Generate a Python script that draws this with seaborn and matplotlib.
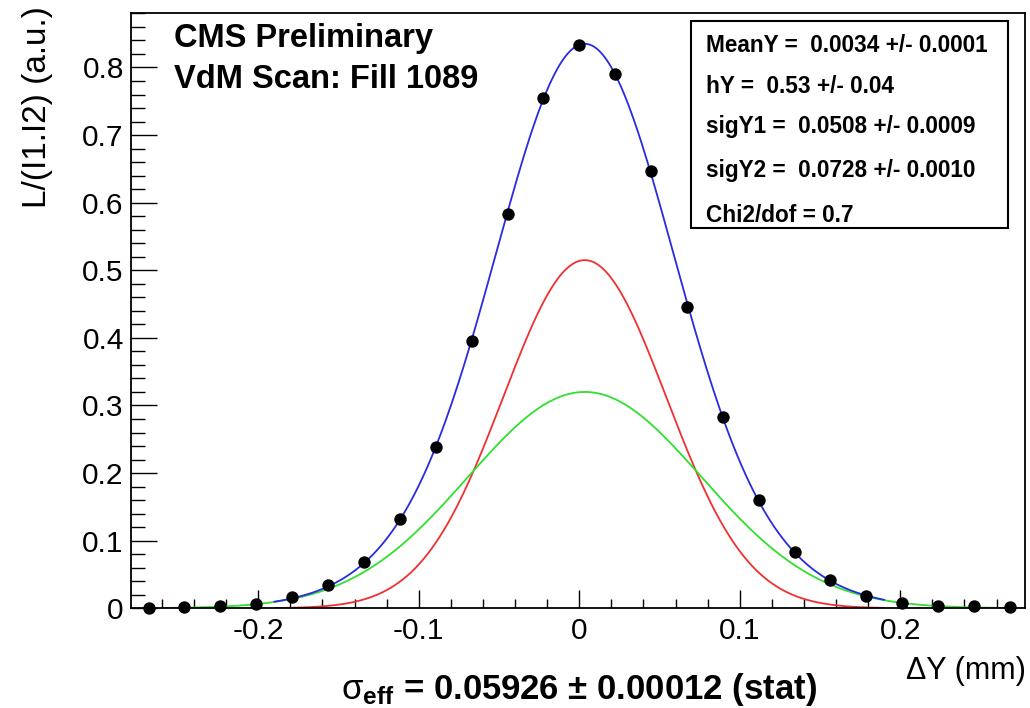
import numpy as np
import pandas as pd
import matplotlib
matplotlib.use("Agg")
import matplotlib.pyplot as plt
from matplotlib.ticker import MultipleLocator, FuncFormatter
from matplotlib.patches import Rectangle
import seaborn as sns

# ---- data ----
scan_x = [-0.2683, -0.2460, -0.2236, -0.2012, -0.1789, -0.1565, -0.1342, -0.1118,
          -0.0894, -0.0671, -0.0447, -0.0224, 0.0, 0.0224, 0.0447, 0.0671,
          0.0894, 0.1118, 0.1342, 0.1565, 0.1789, 0.2012, 0.2236, 0.2460, 0.2683]
lumi_y = [0.000, 0.002, 0.003, 0.006, 0.016, 0.034, 0.068, 0.132,
          0.238, 0.395, 0.583, 0.755, 0.833, 0.790, 0.647, 0.445,
          0.283, 0.160, 0.083, 0.042, 0.018, 0.008, 0.004, 0.003, 0.002]
lumi_err = [0.001, 0.001, 0.001, 0.002, 0.005, 0.004, 0.004, 0.004,
            0.004, 0.004, 0.004, 0.004, 0.004, 0.004, 0.004, 0.004,
            0.004, 0.004, 0.004, 0.004, 0.005, 0.002, 0.001, 0.001, 0.001]

# fit parameters shown in the stats box, peak heights
fit_mean = 0.0034
fit_sig1 = 0.0508
fit_sig2 = 0.0728
fit_amp1 = 0.515   # red (narrow) component peak
fit_amp2 = 0.320   # green (wide) component peak
fit_range = (-0.19, 0.19)
wide_range = (-0.26, 0.278)

stats_lines = ["MeanY =  0.0034 +/- 0.0001",
               "hY =  0.53 +/- 0.04",
               "sigY1 =  0.0508 +/- 0.0009",
               "sigY2 =  0.0728 +/- 0.0010",
               "Chi2/dof = 0.7"]
x_ticks = [-0.2, -0.1, 0.0, 0.1, 0.2]
y_ticks = [0.0, 0.1, 0.2, 0.3, 0.4, 0.5, 0.6, 0.7, 0.8]

sns.set_theme(style="white")
plt.rcParams['font.family'] = ['Liberation Sans', 'DejaVu Sans']
plt.rcParams['axes.unicode_minus'] = False
plt.rcParams['mathtext.fontset'] = 'custom'
plt.rcParams['mathtext.rm'] = 'Liberation Sans'
plt.rcParams['mathtext.bf'] = 'Liberation Sans:bold'
plt.rcParams['mathtext.it'] = 'Liberation Sans:italic'


def g1(x):
    return fit_amp1 * np.exp(-(x - fit_mean) ** 2 / (2 * fit_sig1 ** 2))


def g2(x):
    return fit_amp2 * np.exp(-(x - fit_mean) ** 2 / (2 * fit_sig2 ** 2))


xf = np.linspace(fit_range[0], fit_range[1], 300)
xw = np.linspace(wide_range[0], wide_range[1], 300)
df_blue = pd.DataFrame({"x": xf, "y": g1(xf) + g2(xf)})
df_red = pd.DataFrame({"x": xf, "y": g1(xf)})
df_green = pd.DataFrame({"x": xw, "y": g2(xw)})
df_pts = pd.DataFrame({"x": scan_x, "y": lumi_y, "err": lumi_err})

fig = plt.figure(figsize=(10.30, 7.08), dpi=100)
W, H = 1030.0, 708.0
ax = fig.add_axes([130.7 / W, 1 - 608.3 / H, (1025 - 130.7) / W, (608.3 - 12.7) / H])
ax.set_facecolor("white")

sns.lineplot(data=df_red, x="x", y="y", ax=ax, color="#f03030", lw=1.3,
             sort=False, estimator=None)
sns.lineplot(data=df_green, x="x", y="y", ax=ax, color="#30e030", lw=1.3,
             sort=False, estimator=None)
sns.lineplot(data=df_blue, x="x", y="y", ax=ax, color="#2a2ae0", lw=1.3,
             sort=False, estimator=None)
ax.errorbar(df_pts["x"], df_pts["y"], yerr=df_pts["err"], fmt="none",
            ecolor="black", elinewidth=1.2, capsize=0, zorder=4)
sns.scatterplot(data=df_pts, x="x", y="y", ax=ax, color="black", s=80,
                edgecolor="black", linewidth=0, zorder=5, clip_on=False)

ax.set_xlim(-0.2795, 0.2777)
ax.set_ylim(0, 0.881)
ax.set_xticks(x_ticks)
ax.set_yticks(y_ticks)
ax.xaxis.set_minor_locator(MultipleLocator(0.02))
ax.yaxis.set_minor_locator(MultipleLocator(0.02))
fmt = FuncFormatter(lambda v, p: "0" if abs(v) < 1e-9 else ("%g" % round(v, 3)))
ax.xaxis.set_major_formatter(fmt)
ax.yaxis.set_major_formatter(fmt)
ax.tick_params(axis="x", which="major", direction="in", length=13, width=1.0,
               labelsize=21.5, pad=6.5, colors="black", top=False, bottom=True)
ax.tick_params(axis="x", which="minor", direction="in", length=6.5, width=1.0,
               top=False, bottom=True, colors="black")
ax.tick_params(axis="y", which="major", direction="in", length=18.7, width=1.0,
               labelsize=21.5, pad=5, colors="black", left=True, right=False)
ax.tick_params(axis="y", which="minor", direction="in", length=10, width=1.0,
               left=True, right=False, colors="black")
for s in ax.spines.values():
    s.set_color("black")
    s.set_linewidth(1.3)
    s.set_visible(True)

ax.set_xlabel("")
ax.set_ylabel("")
fig.text(1026 / W, 1 - 671 / H, "\u0394Y (mm)", ha="right", va="center",
         fontsize=22, color="black")
fig.text(38 / W, 1 - 6 / H, "L/(I1.I2) (a.u.)", ha="center", va="top",
         rotation=90, fontsize=24, color="black")
fig.text(579 / W, 1 - 699 / H,
         "$\\mathrm{\u03c3}_{\\mathbf{eff}}$ = 0.05926 \u00b1 0.00012 (stat)",
         ha="center", va="baseline", fontsize=25, fontweight="bold", color="black")

fig.text(174 / W, 1 - 46.7 / H, "CMS Preliminary", ha="left", va="baseline",
         fontsize=23.5, fontweight="bold", color="black")
fig.text(174 / W, 1 - 88 / H, "VdM Scan: Fill 1089", ha="left", va="baseline",
         fontsize=23.5, fontweight="bold", color="black")

fig.patches.append(Rectangle((690.7 / W, 1 - 227.7 / H), (1008 - 690.7) / W,
                             (227.7 - 21) / H, transform=fig.transFigure,
                             facecolor="white", edgecolor="black", lw=1.5,
                             zorder=10))
baselines = [51.7, 93.3, 133.3, 177.0, 221.7]
for txt, b in zip(stats_lines, baselines):
    fig.text(706 / W, 1 - b / H, txt, ha="left", va="baseline", fontsize=16.3,
             fontweight="bold", color="black", zorder=11)

fig.savefig("out.png", dpi=100, facecolor="white")
